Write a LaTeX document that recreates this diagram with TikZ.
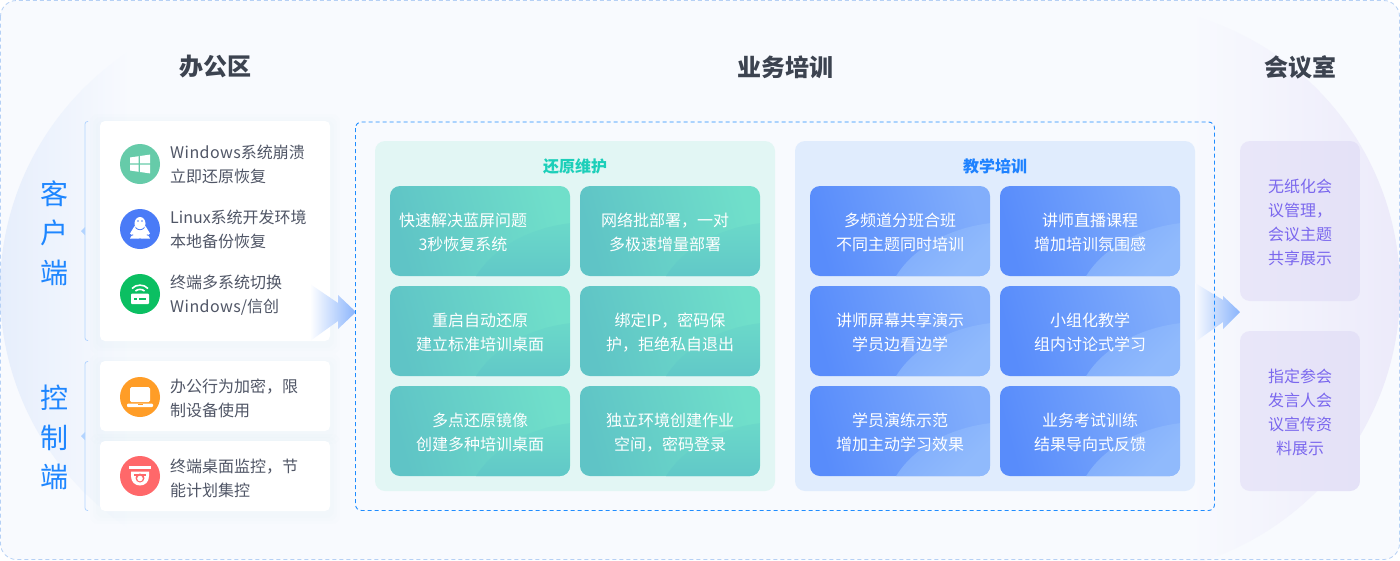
\documentclass[tikz,border=0pt]{standalone}
\usepackage{fontspec}
\setmainfont{Noto Sans CJK SC}
\definecolor{bgc}{HTML}{F8FAFE}
\definecolor{circA}{HTML}{E6EEFC}
\definecolor{circB}{HTML}{ECEAFA}
\definecolor{outerline}{HTML}{B5D0F5}
\definecolor{boxline}{HTML}{1E8CFF}
\definecolor{brk}{HTML}{B3D4FF}
\definecolor{titlec}{HTML}{3C4350}
\definecolor{sidec}{HTML}{1E86FF}
\definecolor{itemc}{HTML}{505666}
\definecolor{tealtit}{HTML}{1CCFB9}
\definecolor{bluetit}{HTML}{1E82FF}
\definecolor{purp}{HTML}{7B68EE}
\definecolor{arrowc}{HTML}{8AB4FC}
\definecolor{ic1}{HTML}{66CBA9}
\definecolor{ic2}{HTML}{4A7BF7}
\definecolor{ic3}{HTML}{0BBF62}
\definecolor{ic4}{HTML}{FF9D27}
\definecolor{ic5}{HTML}{FF686A}
\definecolor{panelT}{HTML}{E2F6F4}
\definecolor{panelB}{HTML}{E0ECFD}
\definecolor{shadowc}{HTML}{8FA5E0}
\definecolor{tealA}{HTML}{5FC4C6}
\definecolor{tealB}{HTML}{70DFCA}
\definecolor{tealBlobT}{HTML}{6BD9C9}
\definecolor{tealBlobB}{HTML}{61C8C8}
\definecolor{blueA}{HTML}{588CFB}
\definecolor{blueB}{HTML}{82AEFB}
\definecolor{blueBlobT}{HTML}{70A0FB}
\definecolor{blueBlobB}{HTML}{90BAFC}
\definecolor{purpA}{HTML}{E9E7F9}
\definecolor{purpB}{HTML}{E4E1F7}
\newcommand{\winword}{{\addfontfeatures{LetterSpace=2.7}Windows}}
\tikzset{
  x=1pt,y=-1pt,
  title/.style={font=\fontsize{24}{28}\selectfont\bfseries,text=titlec,inner sep=0pt},
  side/.style={font=\fontsize{28}{30}\selectfont,text=sidec,inner sep=0pt},
  itemtext/.style={font=\fontsize{16}{24}\selectfont,text=itemc,align=left,anchor=west,inner sep=0pt},
  cardtext/.style={font=\fontsize{16}{24}\selectfont,text=white,align=center,inner sep=0pt},
  purptext/.style={font=\fontsize{16}{24}\selectfont,text=purp,align=center,inner sep=0pt},
  paneltitle/.style={font=\fontsize{16}{20}\selectfont\bfseries,inner sep=0pt},
  whitecard/.style={fill=white,rounded corners=5pt},
  icondisc/.style={circle,minimum size=40pt,inner sep=0pt},
  tealcard/.style={rectangle,rounded corners=10pt,minimum width=180pt,minimum height=90pt,inner sep=0pt,left color=tealA,right color=tealB,shading angle=105},
  bluecard/.style={rectangle,rounded corners=10pt,minimum width=180pt,minimum height=90pt,inner sep=0pt,left color=blueA,right color=blueB,shading angle=105},
  panelbox/.style={rectangle,rounded corners=10pt,minimum width=400pt,minimum height=350pt,inner sep=0pt},
  purpcard/.style={rectangle,rounded corners=10pt,minimum width=120pt,minimum height=160pt,inner sep=0pt,left color=purpA,right color=purpB},
  bracket/.style={draw=brk,line width=0.8pt,rounded corners=2.5pt},
}
\newcommand{\cardshadow}[4]{%
  \foreach \s in {10,7,4}{\fill[fill=shadowc,opacity=0.012,rounded corners=8pt] (#1-\s,#2-\s+3) rectangle (#3+\s,#4+\s+3);}}
\newcommand{\tealitem}[5]{%
  \begin{scope}[shift={(#2,#3)}]
    \node[tealcard] (#1) at (0,0) {};
    \begin{scope}
      \clip[rounded corners=10pt] (-90,-45) rectangle (90,45);
      \clip (110,83) ellipse [x radius=125,y radius=92];
      \shade[top color=tealBlobT,bottom color=tealBlobB] (-90,-9) rectangle (90,45);
    \end{scope}
    \node[cardtext] (#1t) at (#4,1.5) {#5};
  \end{scope}}
\newcommand{\blueitem}[5]{%
  \begin{scope}[shift={(#2,#3)}]
    \node[bluecard] (#1) at (0,0) {};
    \begin{scope}
      \clip[rounded corners=10pt] (-90,-45) rectangle (90,45);
      \clip (110,83) ellipse [x radius=125,y radius=92];
      \shade[top color=blueBlobT,bottom color=blueBlobB,shading angle=45] (-90,-9) rectangle (90,45);
    \end{scope}
    \node[cardtext] (#1t) at (#4,1.5) {#5};
  \end{scope}}
\begin{document}
\begin{tikzpicture}
\useasboundingbox (0,0) rectangle (1400,560);
% background
\fill[bgc,rounded corners=16pt] (0.5,0.5) rectangle (1399.5,559.5);
\begin{scope}
  \clip (285,290) circle [radius=285];
  \clip (0,0) rectangle (130,560);
  \shade[left color=circA,right color=bgc] (0,0) rectangle (130,560);
\end{scope}
\begin{scope}
  \clip (1115,290) circle [radius=285];
  \clip (1190,0) rectangle (1400,560);
  \shade[left color=bgc,right color=circB] (1190,0) rectangle (1400,560);
\end{scope}
\draw[outerline,dash pattern=on 4pt off 3pt,line width=0.8pt,rounded corners=16pt] (0.5,0.5) rectangle (1399.5,559.5);
% titles
\node[title] (t1) at (215,67) {办公区};
\node[title] (t2) at (785,67) {业务培训};
\node[title] (t3) at (1300,67) {会议室};
% side labels
\node[side] (s1) at (54,194) {客};
\node[side] (s2) at (54,233) {户};
\node[side] (s3) at (54,273) {端};
\node[side] (s4) at (54,398) {控};
\node[side] (s5) at (54,438) {制};
\node[side] (s6) at (54,477) {端};
% brackets
\draw[bracket] (88,121.5) -- (85,121.5) -- (85,340.5) -- (88,340.5);
\draw[bracket] (88,361.5) -- (85,361.5) -- (85,510.5) -- (88,510.5);
\fill[brk] (85,227) -- (81,231) -- (85,235) -- cycle;
\fill[brk] (85,432) -- (81,436) -- (85,440) -- cycle;
% white cards
\cardshadow{100}{121}{330}{341}
\cardshadow{100}{361}{330}{431}
\cardshadow{100}{441}{330}{511}
\fill[whitecard] (100,121) rectangle (330,341);
\fill[whitecard] (100,361) rectangle (330,431);
\fill[whitecard] (100,441) rectangle (330,511);
% icon discs
\node[icondisc,fill=ic1] (i1) at (140,164) {};
\node[icondisc,fill=ic2] (i2) at (140,229) {};
\node[icondisc,fill=ic3] (i3) at (140,294) {};
\node[icondisc,fill=ic4] (i4) at (140,397) {};
\node[icondisc,fill=ic5] (i5) at (140,476) {};
% windows glyph
\fill[white] (130,157.5) -- (138.7,156.2) -- (138.7,163.3) -- (130,163.3) -- cycle;
\fill[white] (140,156) -- (150,154.6) -- (150,163.3) -- (140,163.3) -- cycle;
\fill[white] (130,164.7) -- (138.7,164.7) -- (138.7,171.8) -- (130,170.5) -- cycle;
\fill[white] (140,164.7) -- (150,164.7) -- (150,173.4) -- (140,172) -- cycle;
% penguin glyph
\fill[white] (140,223.5) ellipse [x radius=5.5,y radius=6.5];
\fill[white] (140,232) ellipse [x radius=7.5,y radius=6.5];
\fill[white] (134.5,226) -- (130,233.5) -- (132,235) -- (136.5,230) -- cycle;
\fill[white] (145.5,226) -- (150,233.5) -- (148,235) -- (143.5,230) -- cycle;
\fill[white] (130,238.5) .. controls (131,234) and (136,234) .. (139,238.5) -- cycle;
\fill[white] (150,238.5) .. controls (149,234) and (144,234) .. (141,238.5) -- cycle;
\fill[ic2] (138,221) circle [radius=0.9];
\fill[ic2] (142,221) circle [radius=0.9];
\draw[ic2,line width=0.8pt] (135.5,227.5) .. controls (138,230.5) and (142,230.5) .. (144.5,227.5);
% router glyph
\fill[white,rounded corners=1pt] (131,293.5) rectangle (149,304);
\fill[ic3] (134,297.5) rectangle (137,299.5);
\fill[ic3] (139,297.5) rectangle (146,299.5);
\draw[white,line width=1.6pt] (132,288.5) .. controls (136,284) and (144,284) .. (148,288.5);
\draw[white,line width=1.6pt] (135.5,291) .. controls (138,288.8) and (142,288.8) .. (144.5,291);
% laptop glyph
\fill[white,rounded corners=1.5pt] (130,387) rectangle (150,402);
\fill[white,rounded corners=1pt] (127,403.5) rectangle (153,407);
\fill[ic4] (137.5,404) rectangle (142.5,405);
% dome glyph
\fill[white] (129,466) rectangle (151,468.5);
\fill[white] (131,471.5) -- (149,471.5) -- (149,476) .. controls (149,482) and (145,485.5) .. (140,485.5) .. controls (135,485.5) and (131,482) .. (131,476) -- cycle;
\fill[ic5] (134,473.5) rectangle (146,476);
\fill[ic5] (140,478) circle [radius=4.5];
\fill[white] (140,478.5) circle [radius=2.8];
% item text
\node[itemtext] (a1) at (170,164) {\winword 系统崩溃\\立即还原恢复};
\node[itemtext] (a2) at (170,229) {Linux系统开发环境\\本地备份恢复};
\node[itemtext] (a3) at (170,295) {终端多系统切换\\\winword/信创};
\node[itemtext] (a4) at (170,398) {办公行为加密，限\\制设备使用};
\node[itemtext] (a5) at (170,478) {终端桌面监控，节\\能计划集控};
% panels
\node[panelbox,fill=panelT] (p1) at (575,316) {};
\node[panelbox,fill=panelB] (p2) at (995,316) {};
\node[paneltitle,text=tealtit] (p1t) at (575,166) {还原维护};
\node[paneltitle,text=bluetit] (p2t) at (995,166) {教学培训};
% teal cards
\tealitem{c1}{480}{231}{-17}{快速解决蓝屏问题\\3秒恢复系统}
\tealitem{c2}{670}{231}{-5}{网络批部署，一对\\多极速增量部署}
\tealitem{c3}{480}{331}{0}{重启自动还原\\建立标准培训桌面}
\tealitem{c4}{670}{331}{0}{绑定IP，密码保\\护，拒绝私自退出}
\tealitem{c5}{480}{431}{0}{多点还原镜像\\创建多种培训桌面}
\tealitem{c6}{670}{431}{0}{独立环境创建作业\\空间，密码登录}
% blue cards
\blueitem{d1}{900}{231}{0}{多频道分班合班\\不同主题同时培训}
\blueitem{d2}{1090}{231}{0}{讲师直播课程\\增加培训氛围感}
\blueitem{d3}{900}{331}{0}{讲师屏幕共享演示\\学员边看边学}
\blueitem{d4}{1090}{331}{0}{小组化教学\\组内讨论式学习}
\blueitem{d5}{900}{431}{0}{学员演练示范\\增加主动学习效果}
\blueitem{d6}{1090}{431}{0}{业务考试训练\\结果导向式反馈}
% purple cards
\node[purpcard] (m1) at (1300,221) {};
\node[purpcard] (m2) at (1300,411) {};
\node[purptext] (m1t) at (1300,222) {无纸化会\\议管理，\\会议主题\\共享展示};
\node[purptext] (m2t) at (1300,412.5) {指定参会\\发言人会\\议宣传资\\料展示};
% arrows
\begin{scope}
  \clip (310,284) -- (338,303) -- (338,295) -- (356,312) -- (338,329) -- (338,321) -- (310,341) -- cycle;
  \shade[left color=white,right color=arrowc] (310,280) rectangle (356,345);
\end{scope}
\begin{scope}
  \clip (1195,283) -- (1223,300) -- (1223,296) -- (1240,312) -- (1223,329) -- (1223,322) -- (1195,342) -- cycle;
  \shade[left color=bgc,right color=arrowc] (1195,280) rectangle (1240,345);
\end{scope}
% dashed box
\draw[boxline,dash pattern=on 4pt off 3pt,line width=0.9pt,rounded corners=6pt] (355.5,122) rectangle (1214.5,510.5);
\end{tikzpicture}
\end{document}
